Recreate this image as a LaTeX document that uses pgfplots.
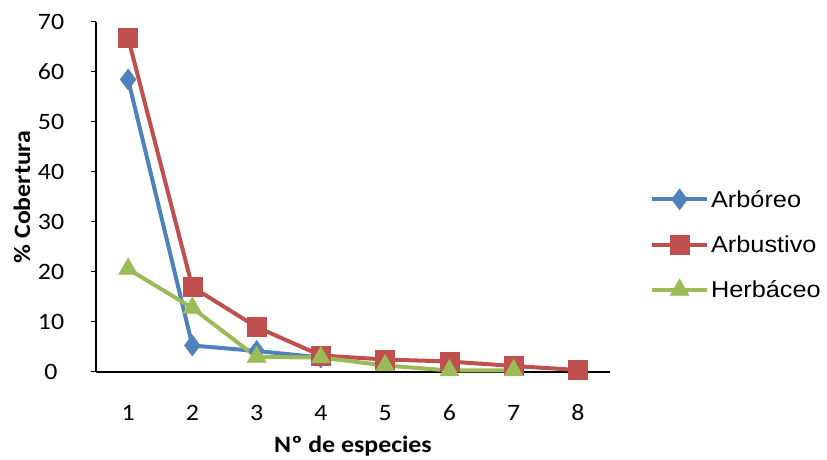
\documentclass[border=0pt]{standalone}
\usepackage{pgfplots}
\pgfplotsset{compat=1.18}
\usepackage{fontspec}
\setmainfont{Liberation Sans}
\newfontfamily\calfont[FakeStretch=1.1]{Carlito}
\newfontfamily\legfont[FakeStretch=1.1]{Liberation Sans}
\definecolor{cblue}{HTML}{4F81BD}
\definecolor{cred}{HTML}{C0504D}
\definecolor{cgreen}{HTML}{9BBB59}
\begin{document}
\begin{tikzpicture}[x=1pt,y=1pt]
\path[use as bounding box] (0,0) rectangle (827,460);
\begin{axis}[
  at={(96pt,88pt)}, anchor=south west,
  scale only axis, width=514pt, height=350pt,
  xmin=0.5, xmax=8.5, ymin=0, ymax=70,
  axis x line*=bottom, axis y line*=left,
  axis line style={line width=2.2pt, black},
  xtick={1,...,8}, ytick={0,10,...,70},
  tick style={black, line width=1pt},
  major tick length=5pt,
  tick align=outside,
  xtick style={draw=none},
  ticklabel style={font=\calfont\fontsize{23.5}{26}\selectfont},
  /pgf/number format/assume math mode=true,
  xticklabel style={anchor=center, yshift=-36pt},
  yticklabel style={anchor=center, xshift=-40pt},
  xlabel={\bfseries Nº de especies},
  ylabel={\bfseries \% Cobertura},
  label style={font=\calfont\fontsize{23.5}{26}\selectfont},
  xlabel style={at={(axis description cs:0.5,-0.211)}, anchor=center},
  ylabel style={at={(axis description cs:-0.144,0.5)}, anchor=center, rotate=0},
  legend style={draw=none, at={(1.078,0.364)}, anchor=west, font=\legfont\fontsize{23}{27}\selectfont, row sep=23pt, fill=none, inner sep=0pt, outer sep=0pt},
  legend cell align=left,
  legend image code/.code={\draw[#1] (0pt,0pt) -- (55pt,0pt) plot coordinates {(27.5pt,0pt)};},
  clip=false,
]
\addplot[cblue, line width=4pt, mark=diamond*, mark size=10.5pt, mark options={solid, line width=0.5pt}] coordinates {
(1,58.5) (2,5.3) (3,4.2) (4,2.9)};
\addlegendentry{Arbóreo}
\addplot[cred, line width=4pt, mark=square*, mark size=9.5pt, mark options={solid, line width=0.5pt}] coordinates {
(1,66.8) (2,17) (3,9) (4,3.3) (5,2.5) (6,2.1) (7,1.2) (8,0.4)};
\addlegendentry{Arbustivo}
\addplot[cgreen, line width=4pt, mark=triangle*, mark size=11pt, mark options={solid, line width=0.5pt}] coordinates {
(1,20.6) (2,12.8) (3,3) (4,2.9) (5,1.3) (6,0.3) (7,0.3)};
\addlegendentry{Herbáceo}
\end{axis}
\end{tikzpicture}
\end{document}
